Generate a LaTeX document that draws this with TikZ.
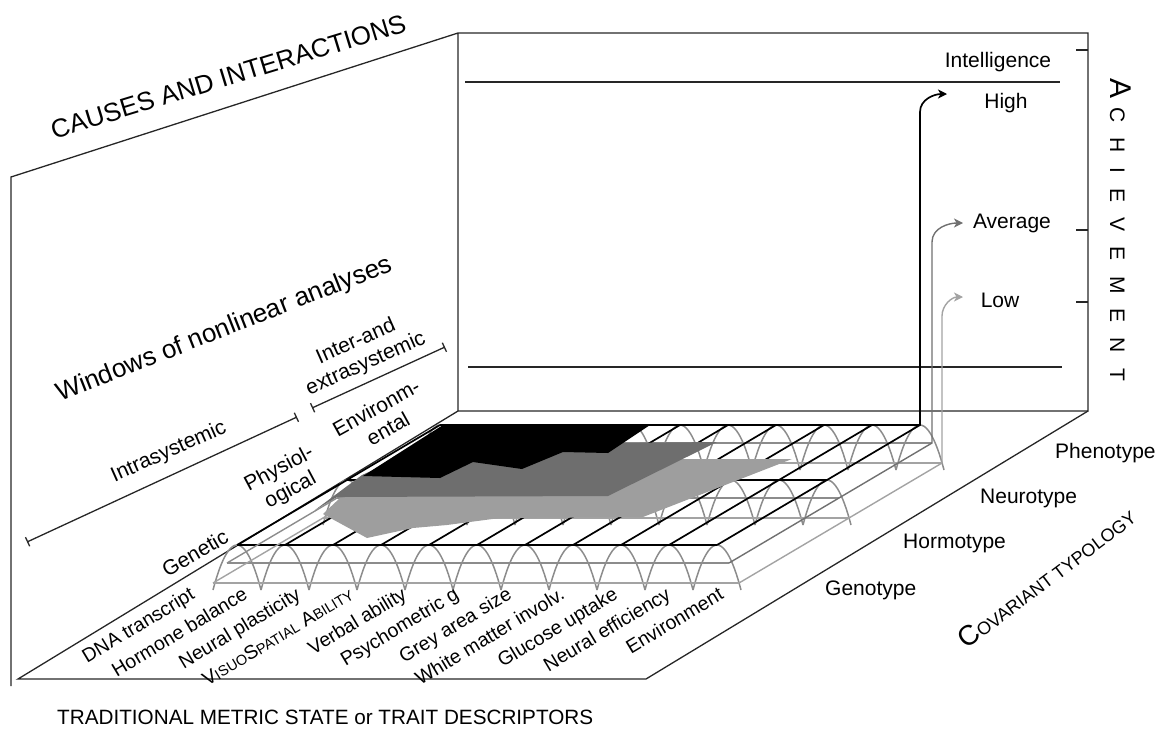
\documentclass[tikz,border=0pt]{standalone}
\usepackage{fontspec}
\setmainfont{Liberation Sans}
\usetikzlibrary{arrows.meta}
\definecolor{archc}{gray}{0.55}
\definecolor{lgc}{gray}{0.62}
\definecolor{avgc}{gray}{0.44}
\definecolor{lowc}{gray}{0.64}
\definecolor{lgfill}{gray}{0.62}
\definecolor{dgfill}{gray}{0.43}
\begin{document}
\begin{tikzpicture}[x=1pt,y=-1pt,
  wall/.style={line width=1.3pt,black!85},
  blk/.style={line width=1.7pt,black},
  archln/.style={line width=1.5pt,archc},
  gline/.style={line width=1.4pt,archc},
  lgline/.style={line width=1.4pt,lowc},
  lbl/.style={inner sep=0pt,font=\fontsize{21}{24}\selectfont},
  big/.style={inner sep=0pt,font=\fontsize{26}{30}\selectfont},
  flbl/.style={inner sep=0pt,font=\fontsize{19.5}{22}\selectfont,rotate=31,anchor=base east},
  tip/.style={-{Stealth[length=9pt,width=9pt,inset=2.5pt]}},
  brk/.style={wall,{Bar[width=10pt]}-{Bar[width=10pt]}}
]
\useasboundingbox (0,0) rectangle (1156,734);

% ---- walls and floor
\coordinate (LWb) at (11,686);
\coordinate (LWt) at (11,177);
\coordinate (BWtl) at (458,33);
\coordinate (BWtr) at (1088,33);
\coordinate (BWbl) at (458,411);
\coordinate (BWbr) at (1088,411);
\coordinate (Ffl) at (18,679);
\coordinate (Ffr) at (646,679);
\draw[wall] (LWb) -- (LWt) -- (BWtl) -- (BWtr) -- (BWbr) -- (BWbl) -- (BWtl);
\draw[wall] (BWbl) -- (Ffl) -- (Ffr) -- (BWbr);
\draw[wall] (465,82) -- (1060,82);
\draw[wall] (468,367) -- (1062,367);
\foreach \y in {50,230,302} \draw[wall] (1076,\y) -- (BWtr |- 0,\y);

% ---- grid rows (back, middle, front)
\foreach \sx/\sy in {203/-120,110/-65,0/0} {
  \begin{scope}[shift={(\sx,\sy)}]
    \foreach \i in {0,...,10} {
      \draw[archln] ({213+48*\i},590) parabola bend ({237+48*\i},545) ({261+48*\i},590);
    }
    \draw[gline] (227,563) -- (729,563);
    \draw[lgline] (213,583) -- (739,583);
    \draw[blk] (237,545) -- (717,545);
  \end{scope}
}
% depth lines
\foreach \i in {0,...,9} \draw[blk] ({237+48*\i},545) -- ++(203,-120);
\draw[gline] (227,563) -- ++(203,-120);
\draw[lgline] (213,583) -- ++(203,-120);

% ---- profile planes
\fill[lgfill] (323,514) -- (367,538) -- (413,528) -- (447,525) -- (500,518) -- (643,517) -- (792,459) -- (600,459) -- (340,498) -- cycle;
\fill[dgfill] (315,510) -- (337,497) -- (608,496) -- (717,442) -- (613,443) -- (600,440) -- (440,440) -- (362,475) -- cycle;
\fill[black] (443,425) -- (650,425) -- (608,453) -- (563,452) -- (522,469) -- (473,462) -- (440,478) -- (363,476) -- cycle;

% ---- achievement arrows
\coordinate (hiTip) at (947,94);
\coordinate (avTip) at (963,223);
\coordinate (loTip) at (963,297);
\draw[blk,tip] (717,545) -- (920,425) -- (920,112) to[out=90,in=180] (hiTip);
\draw[line width=1.4pt,avgc,tip] (729,563) -- (932,443) -- (932,242) to[out=90,in=180] (avTip);
\draw[line width=1.4pt,lowc,tip] (739,583) -- (942,463) -- (942,316) to[out=90,in=180] (loTip);

% ---- back wall labels
\node[lbl,anchor=base] (intel) at (998,67) {Intelligence};
\node[lbl,anchor=base] (high) at (1006,108) {High};
\node[lbl,anchor=base] (avg) at (1012,228) {Average};
\node[lbl,anchor=base] (low) at (1000,307) {Low};
\node[inner sep=0pt,rotate=-90,anchor=base west] (ach) at (1110,78)
  {{\fontsize{30}{32}\selectfont A}\hspace{9pt}{\fontsize{21}{24}\selectfont\addfontfeature{LetterSpace=72}CHIEVEMENT}};

% ---- left wall labels
\node[big,rotate=17,anchor=base] (causes) at (231,85) {CAUSES AND INTERACTIONS};
\node[big,rotate=21.5,anchor=base] (windows) at (227,336) {Windows of nonlinear analyses};
\node[lbl,rotate=24,anchor=base] (intra) at (171,457) {Intrasystemic};
\draw[brk] (27,542) -- (297,417);
\node[lbl,rotate=24,align=center] (inter) at (361,353) {Inter-and\\extrasystemic};
\draw[brk] (312,408) -- (445,347);
\node[lbl,rotate=29,align=center] (envir) at (382,418) {Environm-\\ental};
\node[lbl,rotate=28,align=center] (phys) at (285,480) {Physiol-\\ogical};
\node[lbl,rotate=30] (gen) at (195,553) {Genetic};

% ---- floor labels
\node[flbl] (t0) at (196,598) {DNA transcript};
\node[flbl] (t1) at (249,598) {Hormone balance};
\node[flbl] (t2) at (302,598) {Neural plasticity};
\node[flbl] (t3) at (355,598) {V{\fontsize{14.5}{16}\selectfont ISUO}S{\fontsize{14.5}{16}\selectfont PATIAL} A{\fontsize{14.5}{16}\selectfont BILITY}};
\node[flbl] (t4) at (408,598) {Verbal ability};
\node[flbl] (t5) at (460,598) {Psychometric g};
\node[flbl] (t6) at (513,598) {Grey area size};
\node[flbl] (t7) at (566,598) {White matter involv.};
\node[flbl] (t8) at (619,598) {Glucose uptake};
\node[flbl] (t9) at (672,598) {Neural efficiency};
\node[flbl] (t10) at (725,598) {Environment};

% ---- covariant typology
\node[lbl,anchor=base west] (geno) at (825,595) {Genotype};
\node[lbl,anchor=base west] (hormo) at (903,548) {Hormotype};
\node[lbl,anchor=base west] (neuro) at (980,503) {Neurotype};
\node[lbl,anchor=base west] (pheno) at (1055,458) {Phenotype};
\node[inner sep=0pt,rotate=37,anchor=base west] (covar) at (966,650)
  {{\fontsize{28}{30}\selectfont C}{\fontsize{18}{20}\selectfont OVARIANT TYPOLOGY}};

% ---- bottom caption
\node[inner sep=0pt,anchor=base west,font=\fontsize{20.7}{24}\selectfont] (trad) at (57,724)
  {TRADITIONAL METRIC STATE or TRAIT DESCRIPTORS};
\end{tikzpicture}
\end{document}
